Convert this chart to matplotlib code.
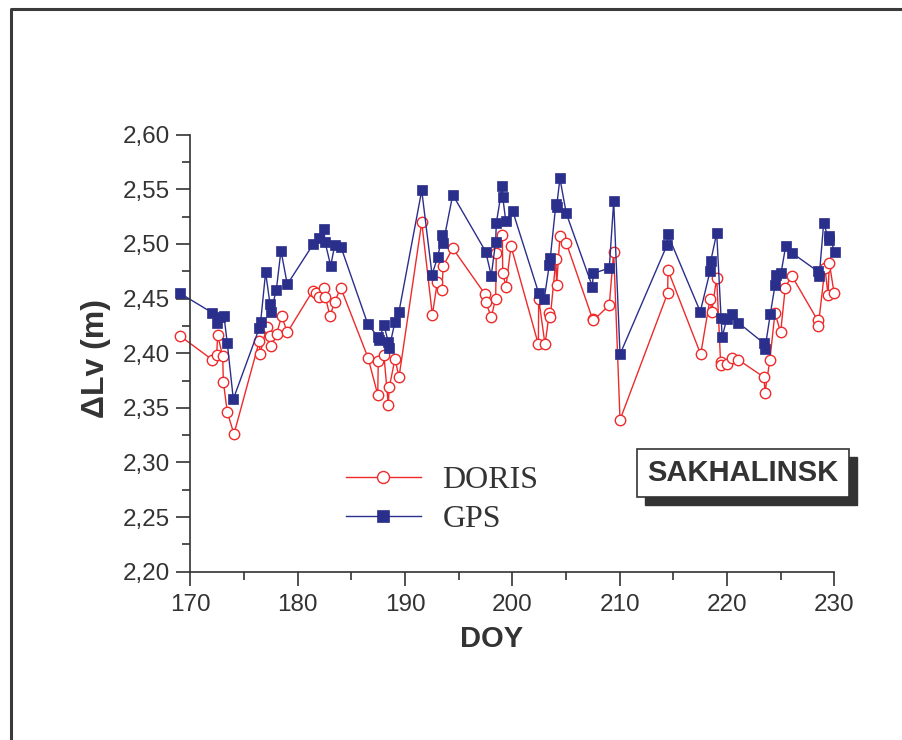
import matplotlib
matplotlib.use("Agg")
import matplotlib.pyplot as plt
from matplotlib.patches import Rectangle
from matplotlib.lines import Line2D
from matplotlib.ticker import MultipleLocator, FuncFormatter

# DOY / dLv values
gps_doy = [169.0, 172.03, 172.47, 172.75, 173.12, 173.43, 173.99, 176.41, 176.54, 177.0,
           177.41, 177.5, 178.0, 178.43, 179.02, 181.45, 182.0, 182.44, 182.53, 183.07,
           183.44, 184.03, 186.51, 187.45, 187.57, 188.03, 188.43, 188.53, 189.06, 189.43,
           191.55, 192.51, 193.04, 193.47, 193.56, 194.44, 197.51, 198.03, 198.44, 198.5,
           199.06, 199.1, 199.38, 200.03, 202.45, 202.97, 203.44, 203.53, 204.06, 204.12,
           204.43, 205.02, 207.45, 207.54, 209.03, 209.44, 210.03, 214.41, 214.47, 217.51,
           218.42, 218.48, 219.04, 219.45, 219.55, 219.97, 220.44, 221.05, 223.45, 223.54,
           224.04, 224.47, 224.57, 225.03, 225.47, 226.03, 228.45, 228.6, 229.01, 229.48,
           229.51, 230.04]
gps_lv = [2.455, 2.437, 2.428, 2.433, 2.434, 2.409, 2.358, 2.423, 2.429, 2.474,
          2.445, 2.438, 2.458, 2.494, 2.463, 2.500, 2.505, 2.514, 2.502, 2.480,
          2.499, 2.497, 2.427, 2.415, 2.412, 2.426, 2.410, 2.405, 2.429, 2.438,
          2.549, 2.472, 2.488, 2.508, 2.501, 2.545, 2.493, 2.471, 2.502, 2.519,
          2.553, 2.543, 2.521, 2.530, 2.455, 2.450, 2.481, 2.487, 2.537, 2.534,
          2.560, 2.528, 2.461, 2.473, 2.478, 2.539, 2.399, 2.499, 2.509, 2.438,
          2.475, 2.484, 2.510, 2.432, 2.415, 2.431, 2.436, 2.428, 2.409, 2.404,
          2.436, 2.462, 2.472, 2.473, 2.498, 2.492, 2.475, 2.471, 2.519, 2.504,
          2.507, 2.493]

doris_doy = [169.0, 172.03, 172.44, 172.53, 173.0, 173.06, 173.43, 174.05, 176.41, 176.48,
             177.1, 177.41, 177.5, 178.03, 178.5, 179.02, 181.39, 181.67, 181.98, 182.42,
             182.58, 183.0, 183.44, 184.0, 186.54, 187.45, 187.5, 188.03, 188.43, 188.53,
             189.06, 189.43, 191.55, 192.54, 193.0, 193.42, 193.56, 194.44, 197.45, 197.51,
             198.03, 198.44, 198.5, 199.06, 199.1, 199.4, 199.87, 202.42, 202.45, 203.04,
             203.44, 203.53, 204.06, 204.12, 204.43, 205.02, 207.48, 207.54, 209.03, 209.44,
             210.03, 214.47, 214.5, 217.55, 218.42, 218.57, 219.04, 219.4, 219.48, 219.97,
             220.44, 221.05, 223.45, 223.54, 224.0, 224.47, 225.0, 225.43, 226.03, 228.45,
             228.51, 229.13, 229.42, 229.53, 229.98]
doris_lv = [2.416, 2.394, 2.398, 2.417, 2.397, 2.374, 2.346, 2.326, 2.411, 2.399,
            2.424, 2.416, 2.407, 2.418, 2.434, 2.419, 2.457, 2.455, 2.451, 2.460,
            2.451, 2.434, 2.447, 2.460, 2.396, 2.362, 2.393, 2.398, 2.353, 2.369,
            2.395, 2.378, 2.520, 2.435, 2.465, 2.458, 2.480, 2.496, 2.454, 2.447,
            2.433, 2.450, 2.492, 2.508, 2.473, 2.461, 2.498, 2.408, 2.450, 2.408,
            2.437, 2.433, 2.486, 2.462, 2.507, 2.501, 2.431, 2.430, 2.444, 2.493,
            2.339, 2.455, 2.476, 2.399, 2.450, 2.438, 2.469, 2.392, 2.389, 2.390,
            2.396, 2.394, 2.378, 2.364, 2.394, 2.437, 2.419, 2.460, 2.471, 2.430,
            2.425, 2.478, 2.453, 2.483, 2.455]

red = '#ee2b2b'
navy = '#2b2f8c'
dark = '#333333'

plt.rcParams['font.family'] = ['Liberation Sans', 'DejaVu Sans']

fig = plt.figure(figsize=(9.03, 7.4), dpi=100)
ax = fig.add_axes([190.5 / 903, 1 - 571.7 / 740, 643.8 / 903, 437 / 740])

ax.plot(doris_doy, doris_lv, color=red, lw=1.0, marker='o', ms=7.5,
        mfc='white', mec=red, mew=1.0, label='DORIS', clip_on=False)
ax.plot(gps_doy, gps_lv, color=navy, lw=1.0, marker='s', ms=7,
        mfc=navy, mec=navy, mew=0.5, label='GPS', clip_on=False)

ax.set_xlim(170, 230)
ax.set_ylim(2.20, 2.60)
ax.xaxis.set_major_locator(MultipleLocator(10))
ax.xaxis.set_minor_locator(MultipleLocator(5))
ax.yaxis.set_major_locator(MultipleLocator(0.05))
ax.yaxis.set_minor_locator(MultipleLocator(0.025))
ax.yaxis.set_major_formatter(FuncFormatter(lambda v, p: f"{v:.2f}".replace('.', ',')))

for s in ['top', 'right']:
    ax.spines[s].set_visible(False)
for s in ['left', 'bottom']:
    ax.spines[s].set_color(dark)
    ax.spines[s].set_linewidth(1.2)
ax.tick_params(which='major', direction='out', length=10, width=1.2, color=dark,
               labelsize=17.5, labelcolor=dark)
ax.tick_params(which='minor', direction='out', length=5.5, width=1.2, color=dark)
ax.tick_params(axis='y', pad=5)
ax.tick_params(axis='x', pad=6)

ax.set_xlabel('DOY', fontsize=21, fontweight='bold', color=dark, va='center')
ax.xaxis.set_label_coords(0.4675, -0.154)
ax.set_ylabel('ΔLv (m)', fontsize=23, fontweight='bold', color=dark, va='center')
ax.yaxis.set_label_coords(-0.147, 0.488)

leg = ax.legend(loc='upper left', bbox_to_anchor=(0.241, 0.243), frameon=False,
                prop={'family': 'Liberation Serif', 'size': 23}, handlelength=2.35,
                handletextpad=0.68, labelspacing=0.3, borderaxespad=0, borderpad=0,
                markerscale=1.15)
for t in leg.get_texts():
    t.set_color(dark)

# station label box with drop shadow
fig.add_artist(Rectangle((645 / 903, 1 - 505 / 740), 212 / 903, 48 / 740,
                         transform=fig.transFigure, facecolor=dark, edgecolor=dark, lw=1))
fig.add_artist(Rectangle((637 / 903, 1 - 497 / 740), 212 / 903, 48 / 740,
                         transform=fig.transFigure, facecolor='white', edgecolor=dark, lw=1.2))
fig.text(743 / 903, 1 - 473 / 740, 'SAKHALINSK', fontsize=21, fontweight='bold',
         color=dark, ha='center', va='center')

# outer frame (cropped at the right and bottom)
fig.add_artist(Line2D([11 / 903, 11 / 903, 1.01], [-0.01, 1 - 9 / 740, 1 - 9 / 740],
                      transform=fig.transFigure, color='#3a3a3a', lw=2.2))

fig.savefig('out.png', dpi=100)
